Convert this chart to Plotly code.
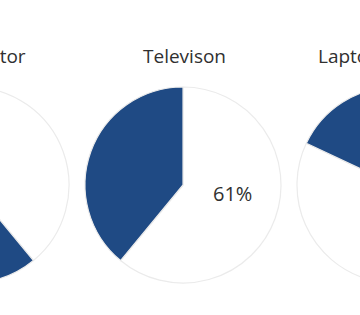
import plotly.graph_objects as go

# ---- data ----
titles = ["Refrigerator", "Televison", "Laptop Computer"]
slice_names = ["Rest", "Share"]
white_values = [39, 61, 82]
blue_values = [61, 39, 18]
show_label = [False, True, False]

# ---- layout helpers (figure is wider than the window and shifted left) ----
W, H = 640, 315
SHIFT = 130
centers_x = [101, 313, 525]
cy = 185
r = 98

BLUE = "#1f4a84"
TEXT = "#303030"
FONT = "Open Sans"

fig = go.Figure()
annotations = []
for i, t in enumerate(titles):
    cx = centers_x[i]
    fig.add_trace(go.Pie(
        labels=slice_names,
        values=[white_values[i], blue_values[i]],
        sort=False,
        direction="clockwise",
        rotation=0,
        marker=dict(colors=["#ffffff", BLUE], line=dict(color="#ebebeb", width=1.2)),
        textinfo="none",
        hoverinfo="label+percent",
        showlegend=False,
        domain=dict(x=[(cx - r) / W, (cx + r) / W], y=[(H - cy - r) / H, (H - cy + r) / H]),
    ))
    annotations.append(dict(
        text=t, x=(cx + 1) / W, y=(H - 56) / H, xref="paper", yref="paper",
        xanchor="center", yanchor="middle", showarrow=False,
        font=dict(family=FONT, size=19, color=TEXT),
    ))
    if show_label[i]:
        annotations.append(dict(
            text=f"{white_values[i]}%", x=(cx + 49) / W, y=(H - cy - 8) / H,
            xref="paper", yref="paper", xanchor="center", yanchor="middle",
            showarrow=False, font=dict(family=FONT, size=20, color=TEXT),
        ))

fig.update_layout(
    width=W, height=H,
    margin=dict(l=0, r=0, t=0, b=0),
    paper_bgcolor="white", plot_bgcolor="white",
    annotations=annotations,
)

post = (
    "document.body.style.margin='0';"
    "document.body.style.overflow='hidden';"
    "document.documentElement.style.overflow='hidden';"
    f"document.getElementById('{{plot_id}}').style.marginLeft='-{SHIFT}px';"
)
fig.write_html("out.html", config={"displayModeBar": False}, post_script=post)
